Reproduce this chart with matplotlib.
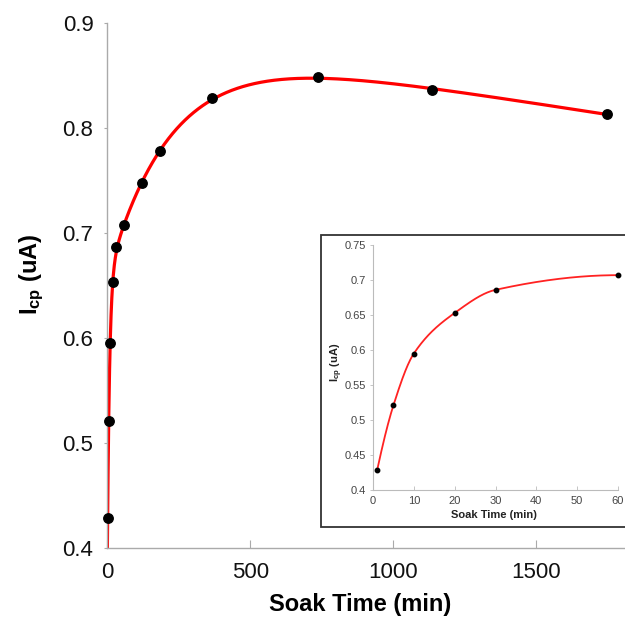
import numpy as np
import matplotlib
matplotlib.use('Agg')
import matplotlib.pyplot as plt
from matplotlib.ticker import FuncFormatter, MultipleLocator
from matplotlib.patches import Rectangle

plt.rcParams['font.family'] = ['Liberation Sans', 'DejaVu Sans']
plt.rcParams['mathtext.fontset'] = 'custom'
plt.rcParams['mathtext.rm'] = 'Liberation Sans'
plt.rcParams['mathtext.bf'] = 'Liberation Sans:bold'

# soak time (min) and charging current (uA)
soak_min = [1, 5, 10, 20, 30, 60, 122, 185, 368, 738, 1138, 1748]
icp_ua = [0.428, 0.521, 0.595, 0.653, 0.686, 0.707, 0.747, 0.778, 0.828, 0.848, 0.836, 0.813]

# first hour only, for the inset
inset_min = [1, 5, 10, 20, 30, 60]
inset_ua = [0.428, 0.521, 0.595, 0.653, 0.686, 0.707]

t = np.array(soak_min, float)
y = np.array(icp_ua, float)

# least squares: two exponential rises plus a slow linear drift
best = None
for tau1 in np.logspace(-0.5, 1.5, 60):
    for tau2 in np.logspace(1.3, 3.0, 90):
        A = np.column_stack([np.ones_like(t), np.exp(-t / tau1), np.exp(-t / tau2), t])
        coef = np.linalg.lstsq(A, y, rcond=None)[0]
        err = np.sum((A @ coef - y) ** 2)
        if best is None or err < best[0]:
            best = (err, tau1, tau2, coef)
_, tau1, tau2, coef = best
tf = np.linspace(0, 1750, 2000)
yf = coef[0] + coef[1] * np.exp(-tf / tau1) + coef[2] * np.exp(-tf / tau2) + coef[3] * tf


def end_slope(h0, h1, d0, d1):
    m = ((2 * h0 + h1) * d0 - h0 * d1) / (h0 + h1)
    if np.sign(m) != np.sign(d0):
        m = 0.0
    elif np.sign(d0) != np.sign(d1) and abs(m) > 3 * abs(d0):
        m = 3 * d0
    return m


def pchip(xs, ys, n=400):
    # monotone cubic through the points (Fritsch-Carlson slopes)
    xs = np.asarray(xs, float)
    ys = np.asarray(ys, float)
    h = np.diff(xs)
    d = np.diff(ys) / h
    m = np.zeros_like(ys)
    for k in range(1, len(xs) - 1):
        if d[k - 1] * d[k] > 0:
            w1 = 2 * h[k] + h[k - 1]
            w2 = h[k] + 2 * h[k - 1]
            m[k] = (w1 + w2) / (w1 / d[k - 1] + w2 / d[k])
    m[0] = end_slope(h[0], h[1], d[0], d[1])
    m[-1] = end_slope(h[-1], h[-2], d[-1], d[-2])
    xx = np.linspace(xs[0], xs[-1], n)
    k = np.clip(np.searchsorted(xs, xx) - 1, 0, len(h) - 1)
    s = (xx - xs[k]) / h[k]
    h00 = 2 * s ** 3 - 3 * s ** 2 + 1
    h10 = s ** 3 - 2 * s ** 2 + s
    h01 = -2 * s ** 3 + 3 * s ** 2
    h11 = s ** 3 - s ** 2
    yy = h00 * ys[k] + h10 * h[k] * m[k] + h01 * ys[k + 1] + h11 * h[k] * m[k + 1]
    return xx, yy


fmt = FuncFormatter(lambda v, p: '%g' % round(v, 3))

fig = plt.figure(figsize=(6.25, 6.17), dpi=100)
ax = fig.add_axes([0.1717, 0.1123, 0.8283, 0.8509])
ax.plot(tf, yf, color='#ff0000', lw=2.3, zorder=2)
ax.plot(soak_min, icp_ua, 'o', color='black', ms=6.8, zorder=3, clip_on=False)
ax.set_xlim(0, 1812)
ax.set_ylim(0.4, 0.9)
ax.xaxis.set_major_locator(MultipleLocator(500))
ax.yaxis.set_major_locator(MultipleLocator(0.1))
ax.yaxis.set_major_formatter(fmt)
for s in ['top', 'right']:
    ax.spines[s].set_visible(False)
for s in ['left', 'bottom']:
    ax.spines[s].set_color('#aaaaaa')
    ax.spines[s].set_linewidth(1.0)
ax.tick_params(axis='x', direction='in', length=6, width=0.8, color='#aaaaaa',
               labelsize=16, labelcolor='#111111', pad=10)
ax.tick_params(axis='y', direction='out', length=2, width=0.8, color='#aaaaaa',
               labelsize=16, labelcolor='#111111', pad=8)
ax.set_xlabel('Soak Time (min)', fontsize=17, fontweight='bold')
ax.set_ylabel(r'$\mathbf{I_{cp}}$ (uA)', fontsize=17, fontweight='bold')
ax.xaxis.set_label_coords(0.489, -0.086)
ax.yaxis.set_label_coords(-0.118, 0.52)

# framed inset box, running off the right edge
fig.patches.append(Rectangle((321 / 625, 1 - 527 / 617), 0.6, (527 - 235) / 617,
                             transform=fig.transFigure, fill=True, facecolor='white',
                             edgecolor='#333333', lw=1.3, zorder=5))

axi = fig.add_axes([0.5968, 0.2058, 0.392, 0.397], zorder=6)
axi.patch.set_alpha(0)
cx, cy = pchip(inset_min, inset_ua)
axi.plot(cx, cy, color='#ff2222', lw=1.3, zorder=2)
axi.plot(inset_min, inset_ua, 'o', color='black', ms=3.2, zorder=3, clip_on=False)
axi.set_xlim(0, 60)
axi.set_ylim(0.4, 0.75)
axi.xaxis.set_major_locator(MultipleLocator(10))
axi.yaxis.set_major_locator(MultipleLocator(0.05))
axi.yaxis.set_major_formatter(fmt)
for s in ['top', 'right']:
    axi.spines[s].set_visible(False)
for s in ['left', 'bottom']:
    axi.spines[s].set_color('#bbbbbb')
    axi.spines[s].set_linewidth(0.8)
axi.tick_params(axis='x', direction='in', length=3, width=0.6, color='#bbbbbb',
                labelsize=8, labelcolor='#444444', pad=4)
axi.tick_params(axis='y', direction='out', length=2, width=0.6, color='#bbbbbb',
                labelsize=8, labelcolor='#444444', pad=3)
axi.set_xlabel('Soak Time (min)', fontsize=8, fontweight='bold', color='#222222')
axi.set_ylabel(r'$\mathbf{I_{cp}}$ (uA)', fontsize=8, fontweight='bold', color='#222222')
axi.xaxis.set_label_coords(0.494, -0.08)
axi.yaxis.set_label_coords(-0.115, 0.52)

fig.savefig('out.png', dpi=100)
